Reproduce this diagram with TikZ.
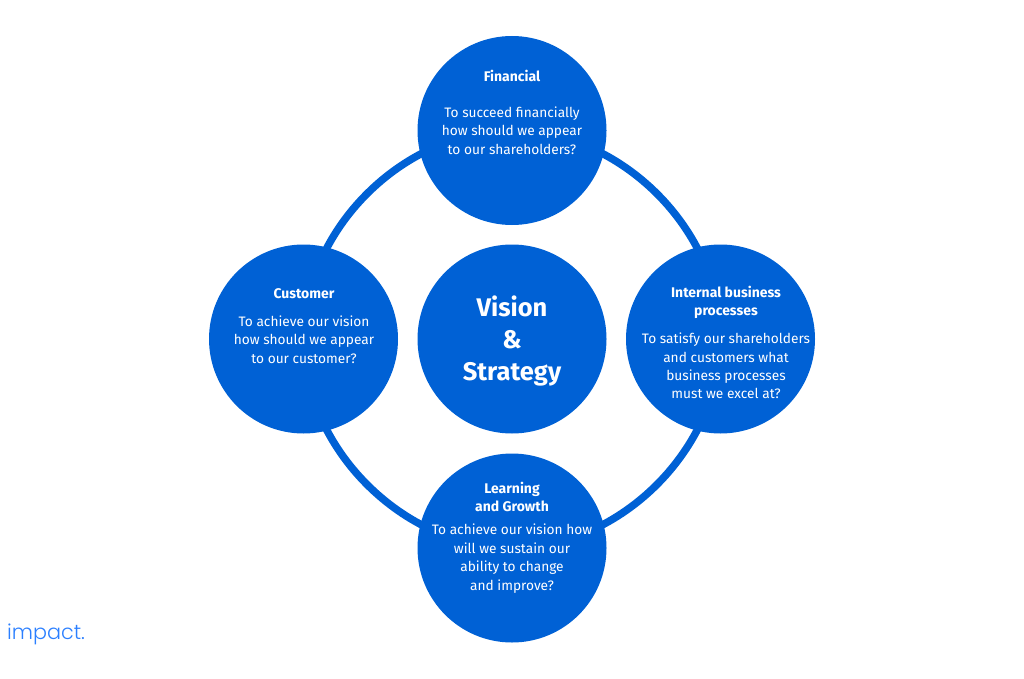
\documentclass[tikz,border=0pt]{standalone}
\usepackage{fontspec}
\usepackage{tikz}
\usetikzlibrary{backgrounds}
\setmainfont{Fira Sans}
\newfontfamily\logofont{Poppins Light}
\definecolor{bubbleblue}{HTML}{0061D5}
\definecolor{logoblue}{HTML}{2B7FFF}
\tikzset{
    bubble/.style={circle,fill=bubbleblue,minimum size=189*.02cm,inner sep=0pt},
    ring/.style={bubbleblue,line width=7.5*.02cm},
    caption/.style={white,align=center,font=\fontsize{7.95}{10.5}\selectfont\bfseries},
    body/.style={white,align=center,font=\fontsize{7.8}{10.5}\selectfont},
}
\begin{document}
\begin{tikzpicture}[x=.02cm,y=-.02cm]
    \useasboundingbox (0,0) rectangle (1024,679);

    \node [bubble] (vision) at (512,339) {};
    \node [bubble] (financial) at (512,130.5) {};
    \node [bubble] (internal) at (720.5,339) {};
    \node [bubble] (learning) at (512,548) {};
    \node [bubble] (customer) at (303.5,339) {};

    \begin{scope}[on background layer]
    \draw [ring] (financial.center) .. controls +(109,0) and +(0,-109) .. (internal.center);
    \draw [ring] (internal.center) .. controls +(0,109) and +(109,0) .. (learning.center);
    \draw [ring] (learning.center) .. controls +(-109,0) and +(0,109) .. (customer.center);
    \draw [ring] (customer.center) .. controls +(0,-109) and +(-109,0) .. (financial.center);
    \end{scope}

    \node [white,align=center,font=\fontsize{14.5}{18.4}\selectfont\bfseries] (visiontext) at (512,341) {Vision\\\&\\Strategy};

    \node [caption] (financialtitle) at (512,76) {Financial};
    \node [body] (financialtext) at (512,130.5) {To succeed financially\\how should we appear\\to our shareholders?};

    \node [caption] (internaltitle) at (726,302.5) {Internal business\\processes};
    \node [body] (internaltext) at (726,366) {To satisfy our shareholders\\and customers what\\business processes\\must we excel at?};

    \node [caption] (learningtitle) at (512,497) {Learning\\and Growth};
    \node [body] (learningtext) at (512,558.5) {To achieve our vision how\\will we sustain our\\ability to change\\and improve?};

    \node [caption] (customertitle) at (304,294) {Customer};
    \node [body] (customertext) at (304,339.5) {To achieve our vision\\how should we appear\\to our customer?};

    \node [logoblue,font=\logofont\fontsize{11.8}{14}\selectfont,anchor=west] (logo) at (1,634) {impact.};
\end{tikzpicture}
\end{document}
